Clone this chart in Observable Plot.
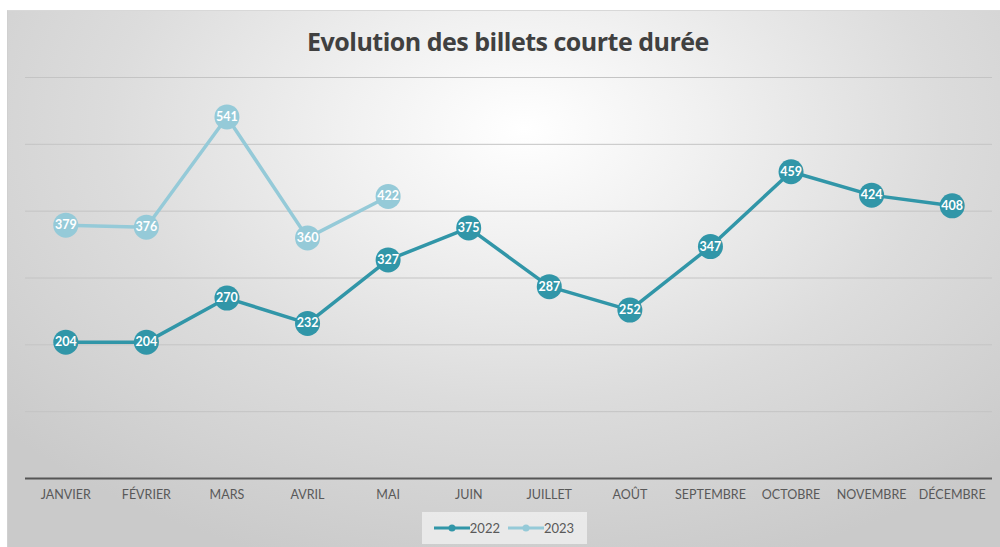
<!DOCTYPE html>
<html>
<head>
<meta charset="utf-8">
<script src="https://cdn.jsdelivr.net/npm/d3@7"></script>
<script src="https://cdn.jsdelivr.net/npm/@observablehq/plot@0.6"></script>
<style>
  html, body { margin: 0; padding: 0; background: #ffffff; width: 1000px; height: 547px; overflow: hidden; }
  #wrap {
    position: absolute; left: 7px; top: 10px; width: 993px; height: 537px;
    background: radial-gradient(ellipse 70% 85% at 52% 22%, #ffffff 0%, #f1f1f1 25%, #dcdcdc 60%, #cacaca 100%);
    border-top: 1px solid #d8d8d8; border-left: 1px solid #d0d0d0;
    box-sizing: border-box;
    font-family: Lato, "Open Sans", sans-serif;
  }
  #title {
    height: 59px; text-align: center; font-size: 25px; font-weight: bold; color: #404040;
    line-height: 25px; padding-top: 18px; box-sizing: border-box;
    font-family: "Open Sans", Lato, sans-serif; letter-spacing: -0.5px; padding-left: 8px;
  }
  #chart svg { display: block; }
  #legend {
    margin: 4px auto 0 auto; width: 165px; height: 32px; background: rgba(242,242,242,0.75);
    display: flex; align-items: center; justify-content: center; gap: 8px;
    font-size: 13px; color: #595959;
  }
  .item { display: flex; align-items: center; gap: 0px; }
</style>
</head>
<body>
<div id="wrap">
  <div id="title">Evolution des billets courte durée</div>
  <div id="chart"></div>
  <div id="legend"></div>
</div>
<script>
const months = ["JANVIER","FÉVRIER","MARS","AVRIL","MAI","JUIN","JUILLET","AOÛT","SEPTEMBRE","OCTOBRE","NOVEMBRE","DÉCEMBRE"];
const series = ["2022", "2023"];
const values2022 = [204, 204, 270, 232, 327, 375, 287, 252, 347, 459, 424, 408];
const values2023 = [379, 376, 541, 360, 422];
const colors = ["#3196a8", "#95cad8"];
const gridValues = [100, 200, 300, 400, 500, 600];

const rows = [];
values2022.forEach((v, i) => rows.push({month: months[i], value: v, series: "2022"}));
values2023.forEach((v, i) => rows.push({month: months[i], value: v, series: "2023"}));

const chart = Plot.plot({
  width: 992,
  height: 438,
  marginTop: 7,
  marginBottom: 30,
  marginLeft: 17,
  marginRight: 8,
  style: {background: "transparent", fontFamily: "Lato, 'Open Sans', sans-serif", fontSize: "12.5px", color: "#595959"},
  x: {type: "point", domain: months, padding: 0.5, round: false},
  y: {domain: [0, 600], axis: null},
  color: {domain: series, range: colors},
  marks: [
    Plot.ruleY(gridValues, {stroke: "#c4c4c4", strokeWidth: 1}),
    Plot.ruleY([0], {stroke: "#555555", strokeWidth: 2.2}),
    Plot.axisX({tickSize: 0, tickPadding: 12, label: null, fill: "#595959", fontSize: 12.5}),
    Plot.line(rows, {x: "month", y: "value", z: "series", stroke: "series", strokeWidth: 3.5}),
    Plot.dot(rows, {x: "month", y: "value", fill: "series", r: 12.5, stroke: "none"}),
    Plot.text(rows, {x: "month", y: "value", text: d => String(d.value), fill: "white", fontWeight: "bold", fontSize: 12.5})
  ]
});
document.getElementById("chart").appendChild(chart);

const legend = document.getElementById("legend");
series.forEach((s, i) => {
  const item = document.createElement("div");
  item.className = "item";
  item.innerHTML = `<svg width="36" height="10"><line x1="0" y1="5" x2="36" y2="5" stroke="${colors[i]}" stroke-width="3"/><circle cx="18" cy="5" r="3.5" fill="${colors[i]}"/></svg><span>${s}</span>`;
  legend.appendChild(item);
});
</script>
</body>
</html>
